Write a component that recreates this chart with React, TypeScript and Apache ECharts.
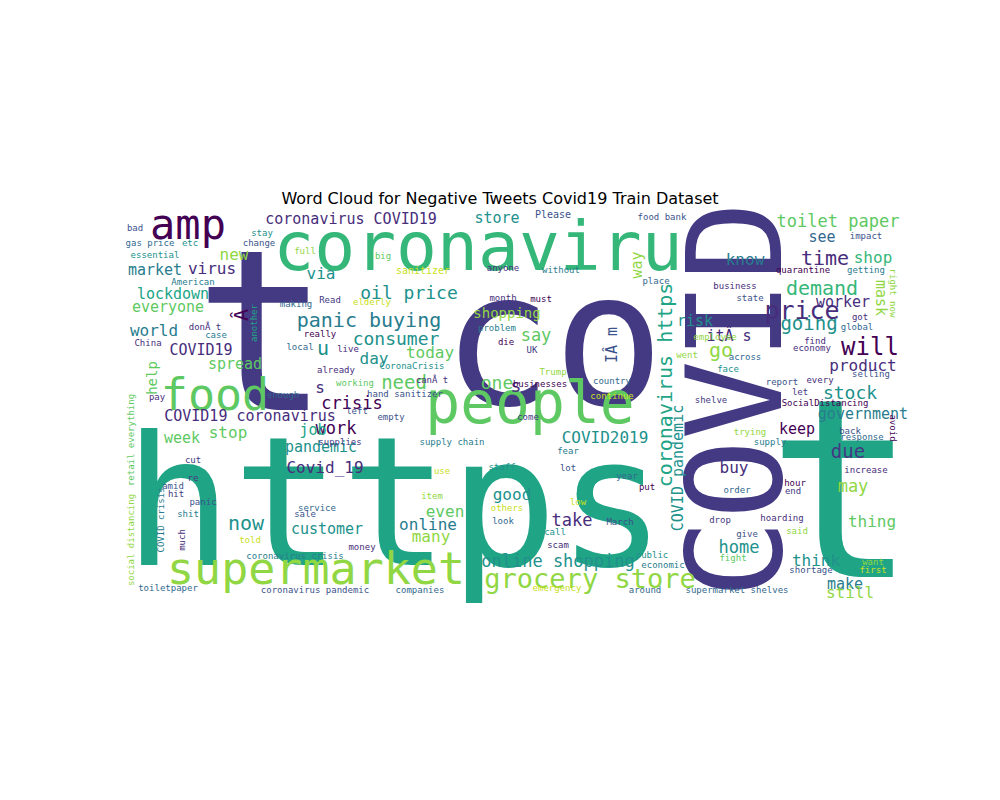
import { useEffect, useRef } from "react";
import * as echarts from "echarts";

const TITLE = "Word Cloud for Negative Tweets Covid19 Train Dataset";

// viridis-like palette used by the word cloud
const PALETTE = ["#440154", "#472d7b", "#443983", "#3b528b", "#31688e", "#287c8e", "#21918c", "#20a486", "#35b779", "#5ec962", "#90d743", "#c8e020"];

// [word, x, y (canvas px), font size, palette index, rotation]
const WORDS: [string, number, number, number, number, number][] = [
  ["https", 395, 502, 180, 7, 0],
  ["t", 262, 332, 225, 2, 0],
  ["co", 553, 340, 185, 2, 0],
  ["COVID", 735, 400, 132, 2, 90],
  ["t", 842, 490, 250, 7, 0],
  ["coronaviru", 478, 246, 68, 8, 0],
  ["people", 530, 403, 58, 9, 0],
  ["supermarket", 316, 568, 45, 10, 0],
  ["food", 215, 394, 45, 9, 0],
  ["amp", 188, 224, 42, 0, 0],
  ["grocery store", 590, 578, 27, 10, 0],
  ["price", 802, 310, 25, 1, 0],
  ["will", 870, 347, 24, 0, 0],
  ["demand", 822, 288, 20, 8, 0],
  ["time", 825, 258, 20, 1, 0],
  ["toilet paper", 838, 221, 17, 9, 0],
  ["shop", 873, 257, 16, 8, 0],
  ["see", 822, 237, 15, 4, 0],
  ["know", 745, 259, 16, 5, 0],
  ["going", 809, 323, 19, 6, 0],
  ["worker", 843, 302, 15, 1, 0],
  ["mask", 881, 298, 15, 10, -90],
  ["stock", 850, 392, 18, 6, 0],
  ["product", 863, 365, 16, 1, 0],
  ["government", 863, 414, 15, 5, 0],
  ["keep", 797, 429, 15, 0, 0],
  ["due", 848, 451, 19, 2, 0],
  ["may", 853, 486, 17, 10, 0],
  ["thing", 872, 521, 16, 9, 0],
  ["buy", 734, 467, 16, 1, 0],
  ["home", 739, 547, 17, 6, 0],
  ["think", 816, 560, 16, 6, 0],
  ["make", 845, 584, 15, 5, 0],
  ["still", 850, 592, 16, 10, 0],
  ["go", 721, 350, 20, 10, 0],
  ["risk", 695, 321, 15, 6, 0],
  ["itÂ s", 729, 336, 15, 1, 0],
  ["way", 637, 265, 15, 10, 90],
  ["IÂ m", 612, 345, 15, 3, 90],
  ["coronavirus https", 665, 385, 20, 7, 90],
  ["COVID pandemic", 678, 468, 15, 6, 90],
  ["COVID2019", 605, 437, 16, 6, 0],
  ["take", 572, 520, 17, 1, 0],
  ["online shopping", 558, 561, 17, 6, 0],
  ["good", 512, 494, 16, 6, 0],
  ["even", 445, 511, 16, 9, 0],
  ["many", 431, 536, 16, 10, 0],
  ["online", 428, 524, 16, 5, 0],
  ["one", 497, 382, 18, 9, 0],
  ["s", 516, 385, 18, 1, 0],
  ["s", 320, 387, 16, 1, 0],
  ["say", 536, 335, 17, 9, 0],
  ["today", 430, 352, 16, 9, 0],
  ["need", 404, 382, 19, 9, 0],
  ["consumer", 396, 338, 18, 6, 0],
  ["panic buying", 369, 320, 20, 5, 0],
  ["oil price", 409, 292, 18, 6, 0],
  ["u", 323, 348, 20, 6, 0],
  ["Â", 241, 315, 20, 0, 90],
  ["via", 321, 273, 16, 6, 0],
  ["day", 374, 358, 16, 6, 0],
  ["crisis", 352, 403, 17, 0, 0],
  ["work", 336, 428, 17, 0, 0],
  ["job", 313, 430, 15, 7, 0],
  ["COVID19 coronavirus", 250, 416, 15, 1, 0],
  ["Covid_19", 325, 467, 16, 1, 0],
  ["pandemic", 321, 447, 15, 6, 0],
  ["customer", 327, 529, 15, 6, 0],
  ["now", 246, 523, 20, 6, 0],
  ["week", 182, 438, 15, 9, 0],
  ["stop", 228, 432, 16, 9, 0],
  ["spread", 235, 364, 15, 9, 0],
  ["COVID19", 201, 350, 15, 1, 0],
  ["world", 154, 330, 16, 5, 0],
  ["everyone", 168, 307, 15, 9, 0],
  ["lockdown", 173, 294, 15, 7, 0],
  ["market", 155, 270, 15, 5, 0],
  ["virus", 212, 268, 16, 1, 0],
  ["new", 234, 254, 16, 10, 0],
  ["help", 152, 378, 14, 9, 90],
  ["coronavirus COVID19", 351, 219, 15, 1, 0],
  ["store", 497, 218, 15, 6, 0],
  ["Please", 553, 214, 10, 3, 0],
  ["shopping", 507, 313, 14, 10, 0],
  ["sanitizer", 423, 270, 10, 11, 0],
  ["bad", 135, 228, 9, 3, 0], ["gas price", 150, 243, 9, 4, 0], ["etc", 190, 243, 9, 6, 0],
  ["essential", 155, 255, 9, 6, 0], ["American", 193, 282, 9, 5, 0], ["stay", 262, 233, 9, 6, 0],
  ["change", 259, 243, 9, 3, 0], ["full", 305, 251, 9, 10, 0], ["big", 383, 256, 9, 9, 0],
  ["elderly", 372, 302, 9, 11, 0], ["Read", 330, 300, 9, 2, 0], ["making", 296, 304, 9, 4, 0],
  ["another", 254, 323, 9, 7, 90], ["donÂ t", 205, 327, 9, 1, 0], ["case", 216, 335, 9, 5, 0],
  ["China", 148, 343, 9, 1, 0], ["pay", 157, 397, 9, 1, 0], ["retail everything", 131, 440, 9, 9, 90],
  ["enough", 283, 395, 9, 4, 0], ["left", 357, 411, 9, 3, 0], ["empty", 391, 417, 9, 3, 0],
  ["hand sanitizer", 405, 394, 9, 3, 0], ["CoronaCrisis", 412, 366, 9, 6, 0], ["canÂ t", 432, 380, 9, 1, 0],
  ["working", 355, 383, 9, 9, 0], ["live", 348, 349, 9, 1, 0], ["really", 320, 334, 9, 0, 0],
  ["local", 300, 347, 9, 4, 0], ["already", 336, 370, 9, 1, 0], ["problem", 497, 328, 9, 5, 0],
  ["die", 506, 342, 9, 0, 0], ["UK", 532, 350, 9, 2, 0], ["month", 503, 298, 9, 1, 0],
  ["must", 541, 299, 9, 0, 0], ["anyone", 503, 268, 9, 1, 0], ["without", 561, 270, 9, 5, 0],
  ["place", 656, 281, 9, 4, 0], ["food bank", 662, 217, 9, 3, 0], ["impact", 866, 236, 9, 3, 0],
  ["quarantine", 803, 270, 9, 0, 0], ["getting", 866, 270, 9, 5, 0], ["state", 750, 298, 9, 3, 0],
  ["business", 735, 286, 9, 1, 0], ["employee", 715, 337, 9, 10, 0], ["went", 687, 355, 9, 10, 0],
  ["across", 745, 357, 9, 4, 0], ["find", 815, 341, 9, 1, 0], ["economy", 812, 348, 9, 1, 0],
  ["global", 857, 327, 9, 4, 0], ["got", 860, 317, 9, 1, 0], ["selling", 871, 374, 9, 3, 0],
  ["right now", 893, 293, 9, 10, -90], ["face", 728, 369, 9, 6, 0], ["report", 782, 382, 9, 3, 0],
  ["every", 820, 380, 9, 1, 0], ["let", 800, 392, 9, 2, 0], ["shelve", 711, 400, 9, 2, 0],
  ["SocialDistancing", 825, 403, 9, 0, 0], ["back", 850, 431, 9, 3, 0], ["response", 862, 437, 9, 4, 0],
  ["avoid", 893, 428, 9, 0, -90], ["trying", 750, 432, 9, 10, 0], ["supply", 770, 442, 9, 5, 0],
  ["increase", 866, 470, 9, 1, 0], ["hour", 795, 483, 9, 0, 0], ["end", 793, 491, 9, 2, 0],
  ["order", 737, 490, 9, 4, 0], ["drop", 720, 520, 9, 2, 0], ["hoarding", 782, 518, 9, 1, 0],
  ["give", 747, 534, 9, 3, 0], ["fight", 733, 558, 9, 9, 0], ["said", 797, 531, 9, 10, 0],
  ["shortage", 811, 570, 9, 3, 0], ["want", 873, 562, 9, 10, 0], ["first", 873, 570, 9, 11, 0],
  ["supermarket shelves", 737, 590, 9, 4, 0], ["around", 645, 590, 9, 4, 0], ["public", 652, 555, 9, 6, 0],
  ["economic", 663, 565, 9, 5, 0], ["March", 620, 522, 9, 3, 0], ["put", 647, 487, 9, 0, 0],
  ["year", 627, 476, 9, 4, 0], ["staff", 502, 467, 9, 6, 0], ["fear", 568, 451, 9, 5, 0],
  ["lot", 568, 468, 9, 3, 0], ["low", 578, 502, 9, 11, 0], ["call", 555, 532, 9, 6, 0],
  ["scam", 558, 545, 9, 1, 0], ["emergency", 557, 588, 9, 11, 0], ["Trump", 553, 372, 9, 10, 0],
  ["come", 528, 417, 9, 2, 0], ["businesses", 540, 384, 9, 0, 0], ["country", 612, 381, 9, 4, 0],
  ["continue", 612, 396, 9, 11, 0], ["supply chain", 452, 442, 9, 5, 0], ["supplies", 340, 442, 9, 2, 0],
  ["use", 442, 471, 9, 11, 0], ["item", 432, 496, 9, 10, 0], ["others", 507, 508, 9, 11, 0],
  ["look", 503, 521, 9, 4, 0], ["re", 193, 478, 9, 2, 0], ["amid", 173, 486, 9, 3, 0],
  ["hit", 176, 494, 9, 2, 0], ["shit", 188, 514, 9, 5, 0], ["panic", 203, 502, 9, 3, 0],
  ["cut", 193, 460, 9, 2, 0], ["service", 317, 508, 9, 4, 0], ["sale", 305, 514, 9, 3, 0],
  ["much", 182, 540, 9, 1, 90], ["COVID crisis", 161, 520, 9, 5, 90], ["social distancing", 131, 540, 9, 10, 90],
  ["told", 250, 540, 9, 11, 0], ["money", 362, 547, 9, 1, 0], ["coronavirus crisis", 295, 556, 9, 5, 0],
  ["toiletpaper", 168, 588, 9, 4, 0], ["coronavirus pandemic", 315, 590, 9, 3, 0], ["companies", 420, 590, 9, 4, 0],
];

const FONT = "DejaVu Sans Mono";

export default function App() {
  const ref = useRef<HTMLDivElement>(null);

  useEffect(() => {
    document.body.style.margin = "0";
    if (!ref.current) return;
    const chart = echarts.init(ref.current, null, { renderer: "svg" });
    chart.setOption({
      animation: false,
      backgroundColor: "#ffffff",
      title: {
        text: TITLE,
        left: "center",
        top: 185,
        textStyle: { fontFamily: "DejaVu Sans", fontSize: 16, fontWeight: "normal", color: "#000" },
      },
      grid: { left: 127, top: 208, width: 766, height: 392 },
      xAxis: { type: "value", min: 127, max: 893, show: false },
      yAxis: { type: "value", min: 208, max: 600, inverse: true, show: false },
      series: [
        {
          type: "scatter",
          symbolSize: 0,
          silent: true,
          itemStyle: { opacity: 1 },
          data: WORDS.map(([w, x, y, size, c, rot]) => ({
            name: w,
            value: [x, y],
            label: {
              show: true,
              position: "inside",
              formatter: w,
              fontFamily: FONT,
              fontSize: size,
              lineHeight: size,
              color: PALETTE[c],
              opacity: 1,
              rotate: rot,
            },
          })),
        },
      ],
    });
    return () => chart.dispose();
  }, []);

  return <div ref={ref} style={{ width: 1000, height: 800 }} />;
}
